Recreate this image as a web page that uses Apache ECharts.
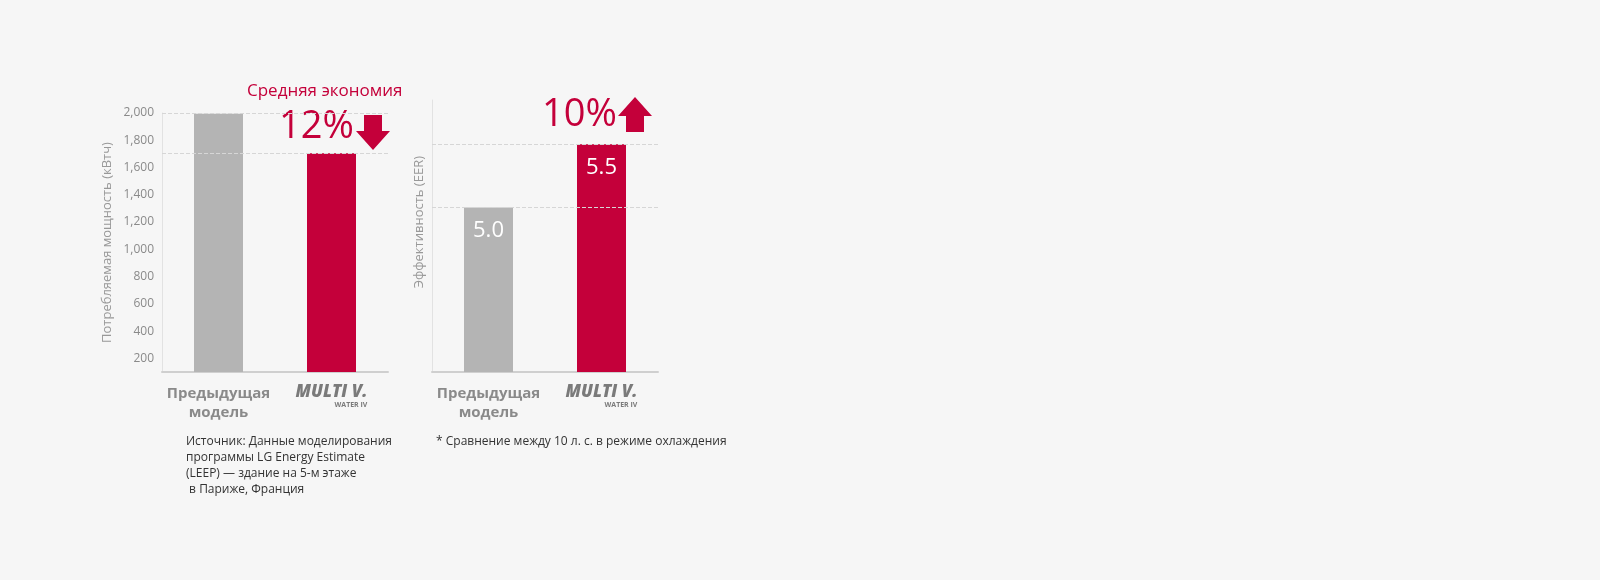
<!DOCTYPE html>
<html><head><meta charset="utf-8">
<script src="https://cdn.jsdelivr.net/npm/echarts@6/dist/echarts.min.js"></script>
<style>html,body{margin:0;background:#f6f6f6}#c{width:1600px;height:580px}</style>
</head><body><div id="c"></div>
<script>
// data
const categories = ['prev', 'multiv'];
const powerValues = [1995, 1705];       // кВтч
const powerTicks = [200, 400, 600, 800, 1000, 1200, 1400, 1600, 1800, 2000];
const eerValues = [5.0, 5.5];
const GRAY = '#b4b4b4', RED = '#c4003a';

const chart = echarts.init(document.getElementById('c'));
const font = '"Open Sans", "Noto Sans", sans-serif';

const catLabel = {
  interval: 0, margin: 12, fontFamily: font,
  formatter: v => v === 'prev' ? '{p|Предыдущая\nмодель}' : '{m|MULTI V.}\n{w|WATER IV}',
  rich: {
    p: { color: '#8a8a8a', fontSize: 15, fontWeight: 'bold', lineHeight: 19, fontFamily: font, align: 'center' },
    m: { color: '#7a7a7a', fontSize: 17, fontWeight: 900, fontStyle: 'italic', fontFamily: font, lineHeight: 17, align: 'right' },
    w: { color: '#7a7a7a', fontSize: 7, fontWeight: 'bold', fontFamily: font, lineHeight: 8, align: 'right' }
  }
};
const dashed = { symbol: 'none', silent: true, label: { show: false },
  lineStyle: { color: '#d6d6d6', type: 'dashed', width: 1 } };

chart.setOption({
  backgroundColor: '#f6f6f6',
  animation: false,
  grid: [
    { left: 162, top: 113, width: 226, height: 259 },
    { left: 432, top: 100, width: 226, height: 272 }
  ],
  xAxis: [0, 1].map(i => ({
    type: 'category', gridIndex: i, data: categories,
    axisLine: { lineStyle: { color: '#cfcfcf', width: 2 } },
    axisTick: { show: false }, axisLabel: catLabel
  })),
  yAxis: [
    { type: 'value', gridIndex: 0, min: 100, max: 2000,
      name: 'Потребляемая мощность (кВтч)', nameLocation: 'middle', nameGap: 48,
      nameTextStyle: { color: '#999', fontSize: 13, fontFamily: font },
      axisLine: { show: true, lineStyle: { color: '#e2e2e2' } }, axisTick: { show: false },
      splitLine: { show: false },
      axisLabel: { customValues: powerTicks, color: '#8a8a8a', fontSize: 12, fontFamily: font, margin: 8,
        formatter: v => v.toLocaleString('en-US') } },
    { type: 'value', gridIndex: 1, min: 3.7, max: 5.85,
      name: 'Эффективность (EER)', nameLocation: 'end', nameRotate: 90, nameGap: -56,
      nameTextStyle: { color: '#999', fontSize: 13, fontFamily: font, align: 'right', verticalAlign: 'bottom', padding: [0, 0, 6, 0] },
      axisLine: { show: true, lineStyle: { color: '#e2e2e2' } }, axisTick: { show: false },
      splitLine: { show: false }, axisLabel: { show: false } }
  ],
  series: [
    { type: 'bar', xAxisIndex: 0, yAxisIndex: 0, barWidth: 49, z: 3,
      data: powerValues.map((v, i) => ({ value: v, itemStyle: { color: i ? RED : GRAY } })),
      markLine: Object.assign({ data: [{ yAxis: 2000 }, { yAxis: powerValues[1] }] }, dashed) },
    { type: 'bar', xAxisIndex: 1, yAxisIndex: 1, barWidth: 49, z: 3,
      data: eerValues.map((v, i) => ({ value: v, itemStyle: { color: i ? RED : GRAY } })),
      label: { show: true, position: 'insideTop', distance: 12, color: '#fff', fontSize: 22, fontFamily: font,
        formatter: p => p.value.toFixed(1) },
      markLine: Object.assign({ data: [{ yAxis: eerValues[0] }, { yAxis: eerValues[1] }] }, dashed) }
  ],
  graphic: [
    { type: 'text', left: 247, top: 83, style: { text: 'Средняя экономия', fill: RED, fontSize: 17, fontFamily: font } },
    { type: 'text', left: 279, top: 108, style: { text: '12%', fill: RED, fontSize: 38, fontFamily: font } },
    { type: 'polygon', shape: { points: [[364,115],[382,115],[382,131],[390,131],[373,150],[356,131],[364,131]] }, style: { fill: RED } },
    { type: 'text', left: 542, top: 96, style: { text: '10%', fill: RED, fontSize: 38, fontFamily: font } },
    { type: 'polygon', shape: { points: [[626,132],[644,132],[644,116],[652,116],[635,97],[618,116],[626,116]] }, style: { fill: RED } },
    { type: 'text', left: 186, top: 434, style: { text: 'Источник: Данные моделирования\nпрограммы LG Energy Estimate\n(LEEP) — здание на 5-м этаже\n в Париже, Франция',
      fill: '#333', fontSize: 12, lineHeight: 16, fontFamily: font } },
    { type: 'text', left: 436, top: 434, style: { text: '* Сравнение между 10 л. с. в режиме охлаждения', fill: '#333', fontSize: 12, lineHeight: 16, fontFamily: font } }
  ]
});
</script></body></html>
